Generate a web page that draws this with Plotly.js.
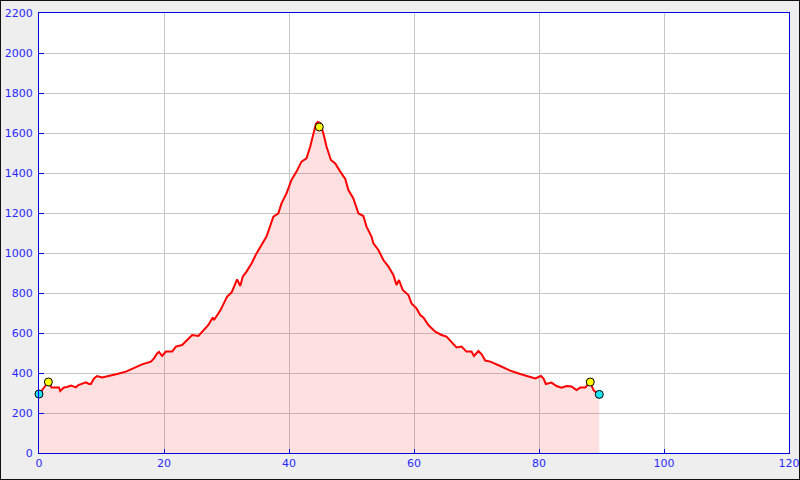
<!DOCTYPE html>
<html>
<head>
<meta charset="utf-8">
<script src="https://cdn.plot.ly/plotly-3.0.1.min.js"></script>
<style>
html,body{margin:0;padding:0;background:#eeeeee;}
#wrap{position:relative;width:800px;height:480px;}
#chart{position:absolute;left:0;top:0;width:800px;height:480px;}
#frame{position:absolute;left:0;top:0;width:800px;height:480px;box-sizing:border-box;border:1px solid #111;pointer-events:none;}
</style>
</head>
<body>
<div id="wrap"><div id="chart"></div><div id="frame"></div></div>
<script>
// distance (km) and elevation (m)
const distKm = [0,0.5,1.0,1.5,2.0,2.6,3.2,3.4,4.0,4.5,5.1,5.5,5.9,6.3,6.7,7.1,7.5,8.0,8.3,8.8,9.3,10.1,11.2,12.5,13.9,15.2,16.5,17.9,18.4,18.9,19.2,19.7,20.3,21.3,21.9,22.9,23.5,24.0,24.5,25.5,26.3,27.1,27.8,28.0,29.0,29.5,30.1,30.8,31.4,31.7,32.2,32.6,33.2,34.0,34.8,35.6,36.4,37.5,38.3,38.8,39.6,40.4,41.2,42.0,42.8,43.4,43.9,44.3,44.6,45.0,45.5,46.0,46.7,47.4,48.2,49.0,49.5,50.3,51.1,51.9,52.4,53.2,53.5,54.3,55.1,55.9,56.7,57.2,57.6,58.2,59.1,59.6,60.4,61.0,61.5,62.3,63.4,64.4,65.2,66.0,66.8,67.6,68.4,69.2,69.6,70.3,70.8,71.4,72.2,73.8,75.4,77.0,78.6,79.4,80.3,80.7,81.1,82.0,82.8,83.6,84.4,85.2,86.0,86.6,87.4,87.9,88.2,88.7,89.2,89.65];
const elevM = [295,315,335,355,328,328,328,310,328,330,337,333,328,340,345,350,353,345,345,373,385,378,385,395,407,427,443,457,473,498,505,485,507,507,532,540,557,575,590,585,612,640,678,665,712,745,782,802,852,868,835,882,907,948,998,1040,1082,1182,1198,1248,1298,1365,1407,1457,1473,1532,1598,1645,1655,1650,1598,1532,1465,1448,1407,1370,1315,1273,1198,1185,1132,1082,1048,1015,965,932,890,840,865,815,790,748,723,690,678,640,607,590,582,557,528,532,507,507,485,510,495,462,457,435,412,395,382,373,385,373,345,352,335,327,335,333,315,327,328,345,355,315,300,293];
// waypoints
const wpKm = [0,1.5,44.85,88.2,89.65];
const wpElev = [295,355,1630,355,293];
const wpColor = ['#1ee3f0','#ffff00','#ffff00','#ffff00','#1ee3f0'];
const xTicks = [0,20,40,60,80,100,120];
const yTicks = [0,200,400,600,800,1000,1200,1400,1600,1800,2000,2200];

const traces = [
  {x: distKm, y: elevM, type:'scatter', mode:'lines', fill:'tozeroy',
   fillcolor:'rgba(255,0,0,0.12)', line:{color:'#ff0000', width:2}, hoverinfo:'skip'},
  {x: wpKm, y: wpElev, type:'scatter', mode:'markers', cliponaxis:false,
   marker:{color: wpColor, size:8, line:{color:'#000000', width:1}}, hoverinfo:'skip'}
];
const axisBase = {showgrid:true, gridcolor:'#c8c8c8', gridwidth:1, zeroline:false,
  showline:true, linecolor:'#0000dd', linewidth:1, mirror:true,
  ticks:'inside', ticklen:5, tickcolor:'#0000dd', tickwidth:1,
  tickfont:{family:'DejaVu Sans', size:11, color:'#2a2aff'}};
const layout = {
  width:800, height:480, showlegend:false,
  paper_bgcolor:'#eeeeee', plot_bgcolor:'#ffffff',
  margin:{l:39, r:11, t:13, b:27},
  xaxis: Object.assign({}, axisBase, {range:[0,120], tickvals:xTicks, ticktext:xTicks.map(String), ticklen:4}),
  yaxis: Object.assign({}, axisBase, {range:[0,2200], tickvals:yTicks, ticktext:yTicks.map(String), ticklabelstandoff:3})
};
Plotly.newPlot('chart', traces, layout, {staticPlot:true, displayModeBar:false});
</script>
</body>
</html>
